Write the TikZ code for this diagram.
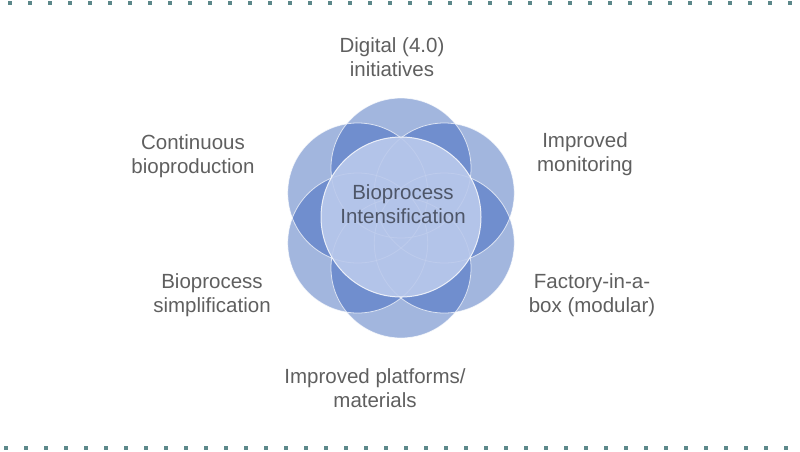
\documentclass[tikz,border=0pt]{standalone}
\usepackage{fontspec}
\setmainfont{Liberation Sans}
\definecolor{petalblue}{RGB}{162,182,222}
\definecolor{overlapblue}{RGB}{112,142,206}
\definecolor{hubblue}{RGB}{187,202,236}
\definecolor{labelgrey}{RGB}{95,95,95}
\definecolor{hubtext}{RGB}{78,86,104}
\definecolor{dotteal}{RGB}{92,136,138}

\begin{document}
\begin{tikzpicture}[x=1pt, y=-1pt,
  rim/.style={draw=white, draw opacity=0.7, line width=0.8pt},
  hub/.style={fill=hubblue, fill opacity=0.9, draw=white, draw opacity=0.8, line width=1pt},
  lbl/.style={text=labelgrey, align=center, font=\fontsize{20.5}{24}\selectfont}]
  \useasboundingbox (0,0) rectangle (800,451);

  % dotted rules
  \draw[dotteal, line width=4pt, dash pattern=on 4pt off 16pt, dash phase=12pt] (0,2.5) -- (800,2.5);
  \draw[dotteal, line width=4pt, dash pattern=on 4pt off 16pt, dash phase=16pt] (0,447.5) -- (800,447.5);

  % petals, then their overlaps
  \foreach \a in {30, 90, ..., 330} {
    \fill[petalblue] (401,218) ++(\a:50) circle (70);
  }
  \foreach \a in {30, 90, ..., 330} {
    \foreach \b in {30, 90, ..., 330} {
      \ifnum\a<\b
        \begin{scope}
          \clip (401,218) ++(\a:50) circle (70);
          \fill[overlapblue] (401,218) ++(\b:50) circle (70);
        \end{scope}
      \fi
    }
  }
  \foreach \a in {30, 90, ..., 330} {
    \draw[rim] (401,218) ++(\a:50) circle (70);
  }
  \draw[hub] (401,217) circle (80);

  \node[lbl, text=hubtext] (centre) at (403,204) {Bioprocess\\Intensification};

  \node[lbl] (digital) at (392,57) {Digital (4.0)\\initiatives};
  \node[lbl] (monitor) at (585,154) {Improved\\monitoring};
  \node[lbl] (factory) at (592,295) {Factory-in-a-\\box (modular)};
  \node[lbl] (platform) at (375,388) {Improved platforms/\\materials};
  \node[lbl] (simple) at (212,295) {Bioprocess\\simplification};
  \node[lbl] (contin) at (193,156) {Continuous\\bioproduction};

\end{tikzpicture}
\end{document}
